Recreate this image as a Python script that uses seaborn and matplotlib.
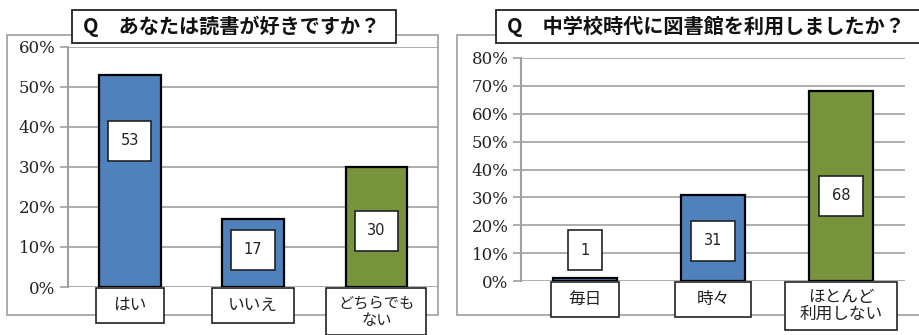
import matplotlib
matplotlib.use("Agg")
import matplotlib.pyplot as plt
from matplotlib.patches import Rectangle
from matplotlib.ticker import FuncFormatter
import seaborn as sns
import pandas as pd

# data
q1_title = "Q　あなたは読書が好きですか？"
q1_cats = ["はい", "いいえ", "どちらでも\nない"]
q1_vals = [53, 17, 30]
q1_colors = ["#4F81BD", "#4F81BD", "#77933C"]

q2_title = "Q　中学校時代に図書館を利用しましたか？"
q2_cats = ["毎日", "時々", "ほとんど\n利用しない"]
q2_vals = [1, 31, 68]
q2_colors = ["#4F81BD", "#4F81BD", "#77933C"]

sns.set_style("white")
# tick labels use the default family (serif); other texts name their own
plt.rcParams["font.family"] = ["DejaVu Serif"]
JP = ["Noto Sans CJK JP", "DejaVu Sans"]

W, H = 919, 335
fig = plt.figure(figsize=(W / 100, H / 100), dpi=100)


def px_rect(x0, y0, x1, y1):
    # pixel box (top-left origin) -> figure fraction
    return (x0 / W, 1 - y1 / H, (x1 - x0) / W, (y1 - y0) / H)


def draw_panel(ax_px, frame_px, title_px, title, cats, vals, colors, ymax,
               label_y, box_w, box_h, cat_fs):
    x, y, w, h = px_rect(*frame_px)
    fig.add_artist(Rectangle((x, y), w, h, transform=fig.transFigure,
                             facecolor="white", edgecolor="#A6A6A6", lw=1.3, zorder=-1))
    x, y, w, h = px_rect(*title_px)
    fig.add_artist(Rectangle((x, y), w, h, transform=fig.transFigure,
                             facecolor="white", edgecolor="#222222", lw=1.3, zorder=3))
    fig.text(x + 11 / W, y + h / 2, title, fontsize=14.5, fontweight="bold",
             family=JP, va="center", ha="left", zorder=4, color="#111111")

    ax = fig.add_axes(px_rect(*ax_px))
    ax.patch.set_alpha(0)
    df = pd.DataFrame({"cat": cats, "val": vals})
    sns.barplot(data=df, x="cat", y="val", hue="cat", palette=colors, legend=False,
                saturation=1, width=0.5, edgecolor="black", linewidth=1.6, ax=ax, zorder=2)
    ax.set_xlim(-0.5, 2.5)
    ax.set_ylim(0, ymax)
    ax.set_yticks(range(0, ymax + 1, 10))
    ax.yaxis.set_major_formatter(FuncFormatter(lambda v, p: f"{v:.0f}%"))
    ax.grid(axis="y", color="#A0A0A0", lw=1.2, zorder=0)
    ax.set_axisbelow(True)
    ax.tick_params(axis="y", length=6, width=1.2, color="#A0A0A0", pad=3, left=True,
                   labelsize=12, labelcolor="#222222")
    ax.tick_params(axis="x", length=0, labelbottom=False)
    for s in ["top", "right", "bottom"]:
        ax.spines[s].set_visible(False)
    ax.spines["left"].set_color("#A0A0A0")
    ax.spines["left"].set_linewidth(1.5)
    ax.set_xlabel("")
    ax.set_ylabel("")

    # value labels
    for i, (v, ly) in enumerate(zip(vals, label_y)):
        ax.text(i, ly, f"{v}", ha="center", va="center", fontsize=10.5,
                family=["DejaVu Sans"], color="#222222", zorder=5,
                bbox=dict(boxstyle="square,pad=0.85", fc="white", ec="#222222", lw=1.2))

    # category label boxes
    axh = ax_px[3] - ax_px[1]
    tr = ax.get_xaxis_transform()
    for i, (c, bw, bh, fs) in enumerate(zip(cats, box_w, box_h, cat_fs)):
        top = -1 / axh
        ax.add_patch(Rectangle((i - bw / 2, top - bh / axh), bw, bh / axh, transform=tr,
                               facecolor="white", edgecolor="#222222", lw=1.2,
                               clip_on=False, zorder=5))
        ax.text(i, top - bh / axh / 2, c, transform=tr, ha="center", va="center",
                fontsize=fs, family=JP, linespacing=1.0, color="#222222", zorder=6,
                clip_on=False)
    return ax


draw_panel((68, 46.5, 438, 287), (7, 35, 438, 315), (72, 10, 396, 43),
           q1_title, q1_cats, q1_vals, q1_colors, 60,
           [36.5, 9.3, 14.0], [0.55, 0.67, 0.81], [35, 35, 47], [12, 12, 11])
draw_panel((521, 58, 905, 281), (457, 35, 925, 315), (496, 10, 925, 43),
           q2_title, q2_cats, q2_vals, q2_colors, 80,
           [11.0, 14.4, 30.5], [0.53, 0.6, 0.875], [35, 35, 48], [12, 12, 12])

fig.savefig("out.png", dpi=100)
